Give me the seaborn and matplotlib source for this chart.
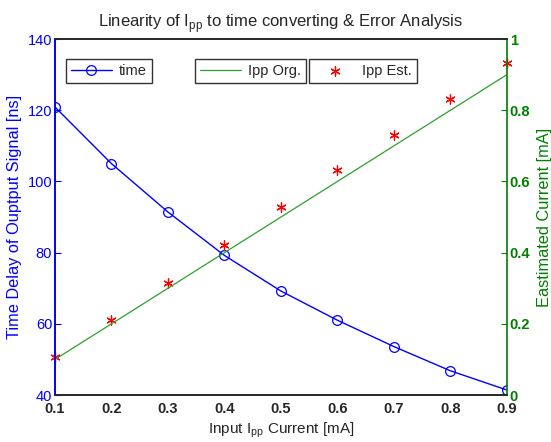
import matplotlib
matplotlib.use('Agg')
import matplotlib.pyplot as plt
import seaborn as sns
import pandas as pd

# data
ipp_in = [0.1, 0.2, 0.3, 0.4, 0.5, 0.6, 0.7, 0.8, 0.9]
time_ns = [120.9, 105.0, 91.4, 79.2, 69.2, 61.0, 53.6, 46.8, 41.4]
ipp_org = [0.10, 0.20, 0.30, 0.40, 0.50, 0.60, 0.70, 0.80, 0.90]
ipp_est = [0.107, 0.21, 0.315, 0.422, 0.528, 0.632, 0.73, 0.831, 0.932]

x_ticks = [0.1, 0.2, 0.3, 0.4, 0.5, 0.6, 0.7, 0.8, 0.9]
left_ticks = [40, 60, 80, 100, 120, 140]
right_ticks = [0, 0.2, 0.4, 0.6, 0.8, 1]

BLUE = '#0000ff'
GREEN = '#007f00'
LGREEN = '#2ca02c'
RED = '#ff0000'

df = pd.DataFrame({'ipp': ipp_in, 'time': time_ns, 'org': ipp_org, 'est': ipp_est})

sns.set_style('white')
plt.rcParams['font.family'] = ['Liberation Sans', 'DejaVu Sans']
plt.rcParams['mathtext.fontset'] = 'custom'
plt.rcParams['mathtext.rm'] = 'Liberation Sans'

fig = plt.figure(figsize=(5.51, 4.42), dpi=100)
ax = fig.add_axes([0.0998, 0.1063, 0.8203, 0.8054])
ax2 = ax.twinx()

sns.lineplot(data=df, x='ipp', y='time', ax=ax, color=BLUE, lw=1.0,
             marker='o', markersize=7, markerfacecolor='none',
             markeredgecolor=BLUE, markeredgewidth=0.9, label='time')
sns.lineplot(data=df, x='ipp', y='org', ax=ax2, color=LGREEN, lw=0.9,
             label='Ipp Org.')
sns.scatterplot(data=df, x='ipp', y='est', ax=ax2, color=RED,
                marker=(6, 2, 0), s=45, linewidth=0.9, label='Ipp Est.',
                clip_on=False)

ax.set_xlim(0.1, 0.9)
ax.set_ylim(40, 140)
ax2.set_ylim(0, 1)
ax.set_xticks(x_ticks)
ax.set_xticklabels([f'{v:g}' for v in x_ticks], fontweight='bold', fontsize=10.5)
ax.set_yticks(left_ticks)
ax.set_yticklabels([str(v) for v in left_ticks], color=BLUE, fontsize=10.5)
ax2.set_yticks(right_ticks)
ax2.set_yticklabels([f'{v:g}' for v in right_ticks], color=GREEN,
                    fontweight='bold', fontsize=10.5)

for a in (ax, ax2):
    a.tick_params(direction='in', length=4, width=0.8, pad=2)
ax.tick_params(axis='x', pad=5)
ax.tick_params(axis='y', colors=BLUE)
ax2.tick_params(axis='y', colors=GREEN)

ax.spines['left'].set_color(BLUE)
ax2.spines['left'].set_color(BLUE)
ax2.spines['right'].set_color(GREEN)
ax.spines['right'].set_visible(False)
for a in (ax, ax2):
    for s in a.spines.values():
        s.set_linewidth(1.2)

ax.set_xlabel(r'Input I$_{\mathrm{pp}}$ Current [mA]', fontsize=11, labelpad=3)
ax.set_ylabel('Time Delay of Ouptput Signal [ns]', color=BLUE, fontsize=11.8, labelpad=4)
ax2.set_ylabel('Eastimated Current [mA]', color=GREEN, fontsize=11.8, labelpad=5)
ax.set_title(r'Linearity of I$_{\mathrm{pp}}$ to time converting & Error Analysis',
             fontsize=12, pad=9)

leg_kw = dict(frameon=True, fancybox=False, edgecolor='black', fontsize=10.5,
              handlelength=2.8, borderpad=0.35, borderaxespad=0, handletextpad=0.5)
h1, l1 = ax.get_legend_handles_labels()
h2, l2 = ax2.get_legend_handles_labels()
leg1 = ax.legend(h1, l1, loc='upper left', bbox_to_anchor=(0.024, 0.944), **leg_kw)
leg2 = ax2.legend([h2[0]], [l2[0]], loc='upper left', bbox_to_anchor=(0.31, 0.944), **leg_kw)
leg3 = fig.legend([h2[1]], [l2[1]], loc='upper left', bbox_to_anchor=(0.562, 0.944),
                  bbox_transform=ax.transAxes, **leg_kw)
for lg in (leg1, leg2, leg3):
    lg.get_frame().set_linewidth(1.0)

fig.savefig('out.png', dpi=100)
